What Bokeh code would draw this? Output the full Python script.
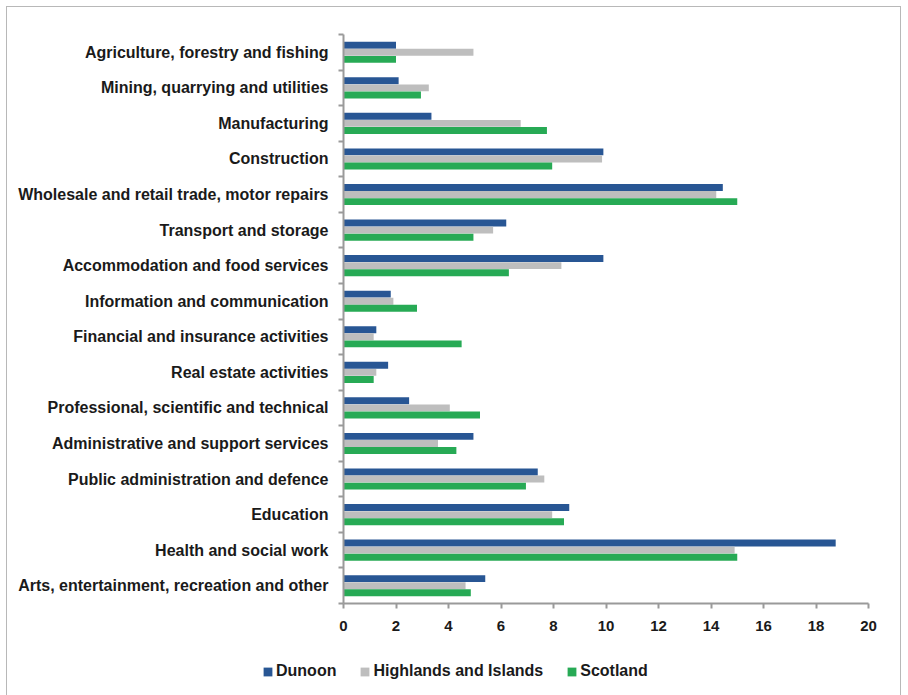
import numpy as np
from bokeh.plotting import figure
from bokeh.layouts import column, row
from bokeh.models import Legend, LegendItem, FixedTicker, Range1d
from bokeh.embed import file_html
from bokeh.resources import INLINE

categories = [
    "Agriculture, forestry and fishing",
    "Mining, quarrying and utilities",
    "Manufacturing",
    "Construction",
    "Wholesale and retail trade, motor repairs",
    "Transport and storage",
    "Accommodation and food services",
    "Information and communication",
    "Financial and insurance activities",
    "Real estate activities",
    "Professional, scientific and technical",
    "Administrative and support services",
    "Public administration and defence",
    "Education",
    "Health and social work",
    "Arts, entertainment, recreation and other",
]
dunoon = [2.0, 2.1, 3.35, 9.9, 14.45, 6.2, 9.9, 1.8, 1.25, 1.7, 2.5, 4.95, 7.4, 8.6, 18.75, 5.4]
highlands = [4.95, 3.25, 6.75, 9.85, 14.2, 5.7, 8.3, 1.9, 1.15, 1.25, 4.05, 3.6, 7.65, 7.95, 14.9, 4.65]
scotland = [2.0, 2.95, 7.75, 7.95, 15.0, 4.95, 6.3, 2.8, 4.5, 1.15, 5.2, 4.3, 6.95, 8.4, 15.0, 4.85]
x_ticks = [0, 2, 4, 6, 8, 10, 12, 14, 16, 18, 20]
series_names = ["Dunoon", "Highlands and Islands", "Scotland"]
colors = ["#285694", "#BEBEBE", "#27AA55"]

FONT = "Liberation Sans"
TXT = "#1a1a1a"
AX = "#9a9a9a"

n = len(categories)
centers = n - np.arange(n) - 0.5
offsets = [0.2, 0.0, -0.2]
series = [dunoon, highlands, scotland]

W = 893
p = figure(width=W, height=640, x_range=Range1d(0, 20), y_range=Range1d(0, n),
           output_backend="svg", toolbar_location=None,
           min_border_left=336, min_border_right=32, min_border_top=27, min_border_bottom=44)
p.xgrid.visible = False
p.ygrid.visible = False
p.outline_line_color = None

for vals, off, col in zip(series, offsets, colors):
    p.hbar(y=centers + off, left=0, right=vals, height=0.195,
           fill_color=col, line_color=None)

# x axis
p.xaxis.ticker = FixedTicker(ticks=x_ticks, minor_ticks=[])
p.xaxis.axis_line_color = AX
p.xaxis.axis_line_width = 2
p.xaxis.major_tick_line_color = AX
p.xaxis.major_tick_line_width = 2
p.xaxis.major_tick_out = 5
p.xaxis.major_tick_in = 0
p.xaxis.minor_tick_line_color = None
p.xaxis.major_label_standoff = 12
p.xaxis.major_label_text_font = FONT
p.xaxis.major_label_text_font_style = "bold"
p.xaxis.major_label_text_font_size = "15px"
p.xaxis.major_label_text_color = TXT

# y axis
p.yaxis.ticker = FixedTicker(ticks=list(centers), minor_ticks=list(range(0, n + 1)))
p.yaxis.major_label_overrides = {float(c): cat for c, cat in zip(centers, categories)}
p.yaxis.axis_line_color = AX
p.yaxis.axis_line_width = 2
p.yaxis.major_tick_line_color = None
p.yaxis.major_tick_out = 0
p.yaxis.major_tick_in = 0
p.yaxis.minor_tick_line_color = AX
p.yaxis.minor_tick_line_width = 2
p.yaxis.minor_tick_out = 5
p.yaxis.minor_tick_in = 0
p.yaxis.major_label_standoff = 10
p.yaxis.major_label_text_font = FONT
p.yaxis.major_label_text_font_style = "bold"
p.yaxis.major_label_text_font_size = "16px"
p.yaxis.major_label_text_color = TXT

# legend strip: a separate small figure (its bars lie outside its visible range)
lf = figure(width=W, height=48, x_range=Range1d(0, 20), y_range=Range1d(100, 101),
            x_axis_type=None, y_axis_type=None, output_backend="svg",
            toolbar_location=None, min_border=0)
lf.xgrid.visible = False
lf.ygrid.visible = False
lf.outline_line_color = None
leg_renderers = []
for vals, off, col in zip(series, offsets, colors):
    leg_renderers.append(lf.hbar(y=centers + off, left=0, right=vals, height=0.19,
                                 fill_color=col, line_color=None))
legend = Legend(
    items=[LegendItem(label=nm, renderers=[r]) for nm, r in zip(series_names, leg_renderers)],
    location=(255, 15), orientation="horizontal",
    label_text_font=FONT, label_text_font_style="bold", label_text_font_size="16px",
    label_text_color=TXT, glyph_width=11, glyph_height=11, label_height=11,
    label_standoff=3, spacing=23, padding=0, margin=0,
    border_line_color=None, background_fill_alpha=0,
)
lf.add_layout(legend, "center")

layout = column(p, row(lf), spacing=0)
layout.styles = {"border": "1px solid #b8b8b8", "margin": "6px 0 0 6px"}

open("out.html", "w").write(file_html(layout, INLINE))
